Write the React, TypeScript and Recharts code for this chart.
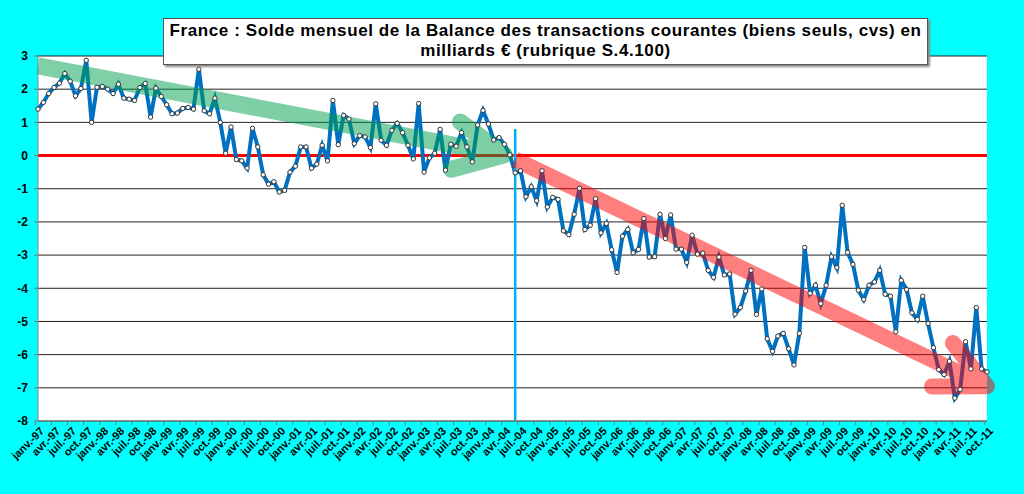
import { ComposedChart, Line, XAxis, YAxis, CartesianGrid, ReferenceLine } from "recharts";

// mois (libellés Excel) et années
const months = ["janv.", "févr.", "mars", "avr.", "mai", "juin", "juil.", "août", "sept.", "oct.", "nov.", "déc."];
const years = ["97", "98", "99", "00", "01", "02", "03", "04", "05", "06", "07", "08", "09", "10", "11"];

// solde mensuel, milliards €
const y1997 = [1.40, 1.60, 1.87, 2.05, 2.18, 2.47, 2.24, 1.80, 2.02, 2.87, 1.00, 2.06];
const y1998 = [2.08, 2.00, 1.87, 2.15, 1.73, 1.70, 1.66, 2.05, 2.17, 1.16, 2.03, 1.78];
const y1999 = [1.53, 1.26, 1.28, 1.42, 1.45, 1.40, 2.60, 1.35, 1.26, 1.73, 1.00, 0.07];
const y2000 = [0.86, -0.12, -0.16, -0.38, 0.82, 0.26, -0.58, -0.86, -0.79, -1.10, -1.05, -0.50];
const y2001 = [-0.32, 0.26, 0.26, -0.38, -0.26, 0.31, -0.16, 1.66, 0.33, 1.21, 1.10, 0.36];
const y2002 = [0.60, 0.56, 0.24, 1.56, 0.46, 0.31, 0.76, 0.97, 0.69, 0.31, -0.10, 1.57];
const y2003 = [-0.50, -0.07, 0.07, 0.79, -0.44, 0.34, 0.28, 0.69, 0.26, -0.19, 0.92, 1.36];
const y2004 = [0.95, 0.47, 0.54, 0.34, 0.02, -0.52, -0.46, -1.24, -0.94, -1.36, -0.46, -1.55];
const y2005 = [-1.26, -1.32, -2.27, -2.38, -1.77, -0.99, -2.23, -2.10, -1.30, -2.33, -2.05, -2.84];
const y2006 = [-3.52, -2.43, -2.23, -2.93, -2.83, -1.90, -3.06, -3.05, -1.77, -2.50, -1.79, -2.82];
const y2007 = [-2.82, -3.22, -2.40, -2.97, -2.94, -3.46, -3.67, -3.06, -3.60, -3.57, -4.78, -4.58];
const y2008 = [-4.08, -3.46, -4.79, -4.02, -5.52, -5.90, -5.44, -5.36, -5.82, -6.31, -5.36, -2.77];
const y2009 = [-4.15, -3.91, -4.46, -3.91, -3.05, -3.38, -1.50, -2.92, -3.28, -4.06, -4.34, -3.91];
const y2010 = [-3.81, -3.46, -4.18, -4.24, -5.31, -3.76, -4.04, -4.74, -4.94, -4.24, -5.06, -5.79];
const y2011 = [-6.45, -6.60, -6.20, -7.31, -7.05, -5.61, -6.43, -4.58, -6.43, -6.52];

const yTicks = [-8, -7, -6, -5, -4, -3, -2, -1, 0, 1, 2, 3];

const values = [y1997, y1998, y1999, y2000, y2001, y2002, y2003, y2004, y2005, y2006, y2007, y2008, y2009, y2010, y2011];
const data = values.flatMap((row, yi) => row.map((v, mi) => ({ m: `${months[mi]}-${years[yi]}`, v })));
const cats = data.map((d) => d.m);

const HALF_BAND = (1024 - 38 - 37) / data.length / 2;
const HEAD_LEN = 55;
const HEAD_ANGLE = (26 * Math.PI) / 180;

const XTick = (props: any) => {
  const { x, y, payload } = props;
  return (
    <g transform={`translate(${x},${y})`}>
      <line x1={-HALF_BAND} x2={-HALF_BAND} y1={0} y2={4} stroke="#777" />
      <text
        transform="translate(4,8) rotate(-45)"
        textAnchor="end"
        dy="0.35em"
        fontSize={11}
        fontWeight="bold"
        fill="#000"
      >
        {payload.value}
      </text>
    </g>
  );
};

const arrow = (color: string, width: number) => (p: any) => {
  const { x1, y1, x2, y2 } = p;
  if (x1 == null || x2 == null) return <g />;
  const a = Math.atan2(y2 - y1, x2 - x1);
  const hx = (d: number) => x2 - HEAD_LEN * Math.cos(a + d);
  const hy = (d: number) => y2 - HEAD_LEN * Math.sin(a + d);
  return (
    <g opacity={0.5} stroke={color} strokeWidth={width} fill="none">
      <line x1={x1} y1={y1} x2={x2} y2={y2} />
      <polyline
        points={`${hx(HEAD_ANGLE)},${hy(HEAD_ANGLE)} ${x2},${y2} ${hx(-HEAD_ANGLE)},${hy(-HEAD_ANGLE)}`}
        strokeLinecap="round"
        strokeLinejoin="round"
      />
    </g>
  );
};

export default function App() {
  return (
    <div
      style={{
        position: "absolute",
        left: 0,
        top: 0,
        width: 1024,
        height: 494,
        background: "#00FFFF",
        fontFamily: "Arial, 'Liberation Sans', sans-serif",
      }}
    >
      <ComposedChart width={1024} height={494} data={data} margin={{ top: 56, right: 37, bottom: 0, left: 0 }}>
        <CartesianGrid vertical={false} stroke="#222" fill="#fff" />
        <XAxis
          dataKey="m"
          interval={2}
          height={73}
          tickSize={0}
          tickMargin={0}
          tick={<XTick />}
          axisLine={{ stroke: "#888" }}
        />
        <YAxis
          domain={[-8, 3]}
          ticks={yTicks}
          width={38}
          tickSize={4}
          tickMargin={6}
          tickLine={{ stroke: "#777" }}
          axisLine={{ stroke: "#888" }}
          tick={{ fill: "#000", fontSize: 12, fontWeight: "bold" }}
        />
        <YAxis yAxisId="r" orientation="right" domain={[-8, 3]} width={0} tick={false} tickLine={false} axisLine={{ stroke: "#aaa" }} />
        <ReferenceLine
          segment={[{ x: cats[0], y: 0 }, { x: cats[cats.length - 1], y: 0 }]}
          stroke="#FF0000"
          strokeWidth={3}
        />
        <Line
          dataKey="v"
          type="linear"
          stroke="#0070C0"
          strokeWidth={4}
          dot={{ r: 2.2, fill: "#fff", stroke: "#333", strokeWidth: 1 }}
          isAnimationActive={false}
        />
        <ReferenceLine
          segment={[{ x: cats[89], y: 0.8 }, { x: cats[89], y: -8 }]}
          stroke="#00B0F0"
          strokeWidth={2.5}
        />
        <ReferenceLine
          segment={[{ x: cats[0], y: 2.7 }, { x: cats[87], y: 0.02 }]}
          shape={arrow("#00A050", 17)}
        />
        <ReferenceLine
          segment={[{ x: cats[89], y: -0.12 }, { x: cats[cats.length - 1], y: -6.95 }]}
          shape={arrow("#FF0000", 16)}
        />
      </ComposedChart>
      <div
        style={{
          position: "absolute",
          left: 163,
          top: 18,
          width: 763,
          height: 43,
          background: "#fff",
          border: "1px solid #555",
          boxShadow: "2px 2px 2px #888",
          fontWeight: "bold",
          fontSize: 17,
          letterSpacing: "0.6px",
          lineHeight: "20px",
          textAlign: "center",
          paddingTop: 2,
          color: "#000",
        }}
      >
        France : Solde mensuel de la Balance des transactions courantes (biens seuls, cvs) en
        <br />
        milliards € (rubrique S.4.100)
      </div>
    </div>
  );
}
